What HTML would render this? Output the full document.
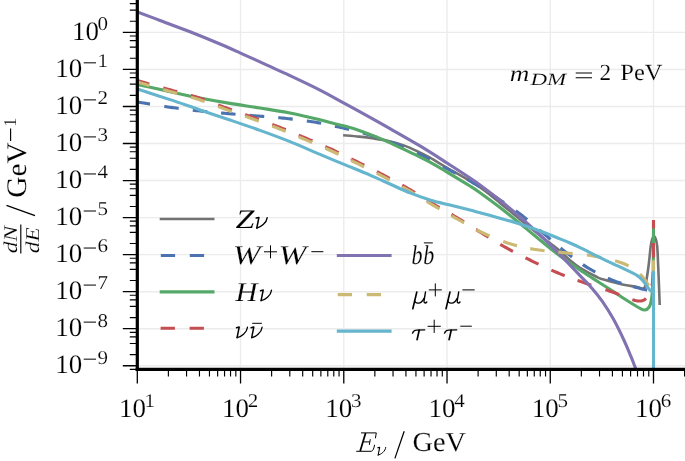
<!DOCTYPE html>
<html><head><meta charset="utf-8"><title>Neutrino spectra</title>
<style>html,body{margin:0;padding:0;background:#fff;}svg{display:block;}text{font-family:"Liberation Serif",serif;fill:#000;text-rendering:geometricPrecision;stroke:#fff;stroke-width:0.15px;filter:grayscale(1);}.i{font-style:italic;}</style></head><body>
<svg width="685" height="461" viewBox="0 0 685 461">
<rect width="685" height="461" fill="#fff"/>
<g stroke="#ececec" stroke-width="1.4" fill="none">
<line x1="240.54" y1="0" x2="240.54" y2="369.40"/>
<line x1="343.78" y1="0" x2="343.78" y2="369.40"/>
<line x1="447.02" y1="0" x2="447.02" y2="369.40"/>
<line x1="550.26" y1="0" x2="550.26" y2="369.40"/>
<line x1="653.50" y1="0" x2="653.50" y2="369.40"/>
<line x1="137.30" y1="32.40" x2="685.00" y2="32.40"/>
<line x1="137.30" y1="69.44" x2="685.00" y2="69.44"/>
<line x1="137.30" y1="106.48" x2="685.00" y2="106.48"/>
<line x1="137.30" y1="143.52" x2="685.00" y2="143.52"/>
<line x1="137.30" y1="180.56" x2="685.00" y2="180.56"/>
<line x1="137.30" y1="217.60" x2="685.00" y2="217.60"/>
<line x1="137.30" y1="254.64" x2="685.00" y2="254.64"/>
<line x1="137.30" y1="291.68" x2="685.00" y2="291.68"/>
<line x1="137.30" y1="328.72" x2="685.00" y2="328.72"/>
<line x1="137.30" y1="365.76" x2="685.00" y2="365.76"/>
</g>
<defs><clipPath id="c"><rect x="137.30" y="0" width="547.70" height="369.40"/></clipPath></defs>
<g clip-path="url(#c)" fill="none" stroke-linejoin="round">
<path d="M343.10,135.30 C345.78,135.52 354.08,136.10 359.20,136.63 C364.32,137.16 368.93,137.74 373.80,138.47 C378.67,139.19 383.53,139.88 388.40,141.00 C393.27,142.11 398.13,143.41 403.00,145.14 C407.87,146.88 413.10,149.33 417.60,151.42 C422.10,153.51 425.10,154.96 430.00,157.69 C434.90,160.42 440.33,163.91 447.00,167.79 C453.67,171.68 463.83,177.24 470.00,180.98 C476.17,184.72 479.00,186.58 484.00,190.24 C489.00,193.90 494.00,198.07 500.00,202.94 C506.00,207.81 513.33,214.06 520.00,219.48 C526.67,224.90 534.00,230.76 540.00,235.46 C546.00,240.17 552.67,245.12 556.00,247.72 C559.33,250.32 557.67,249.00 560.00,251.07 C562.33,253.14 566.67,257.34 570.00,260.14 C573.33,262.94 575.50,265.07 580.00,267.89 C584.50,270.70 593.07,275.08 597.00,277.02 C600.93,278.96 599.70,278.36 603.60,279.53 C607.50,280.70 614.83,282.80 620.40,284.05 C625.97,285.29 633.08,286.26 637.00,287.00 C640.92,287.74 642.30,289.83 643.90,288.50 C645.50,287.17 645.78,283.08 646.60,279.00 C647.42,274.92 648.12,269.43 648.80,264.00 C649.48,258.57 650.12,250.60 650.70,246.40 C651.28,242.20 651.75,240.47 652.30,238.80 C652.85,237.13 653.43,236.40 654.00,236.40 C654.57,236.40 655.17,237.13 655.70,238.80 C656.23,240.47 656.80,242.20 657.20,246.40 C657.60,250.60 657.82,257.82 658.10,264.00 C658.38,270.18 658.63,276.67 658.90,283.50 C659.17,290.33 659.57,301.42 659.70,305.00" stroke="#737373" stroke-width="2.60"/>
<path d="M137.30,102.00 L137.73,102.07 L138.22,102.15 L138.78,102.24 L139.39,102.34 L140.05,102.44 L140.77,102.56 L141.53,102.68 L142.34,102.81 L143.19,102.95 L144.07,103.09 L144.99,103.24 L145.94,103.39 L146.92,103.54 L147.93,103.71 L148.96,103.87 L150.00,104.04 L150.02,104.04 M164.33,106.40 L164.99,106.50 L166.45,106.73 L167.94,106.95 L169.45,107.17 L171.00,107.39 L172.59,107.61 L174.25,107.83 L175.96,108.06 L177.71,108.30 L178.69,108.42 M192.80,110.18 L194.51,110.38 L196.37,110.59 L198.20,110.80 L200.00,110.99 L201.78,111.19 L203.54,111.37 L205.30,111.55 L207.05,111.72 L207.21,111.74 M221.08,113.00 L222.70,113.14 L224.46,113.30 L226.22,113.45 L228.00,113.60 L229.79,113.76 L231.58,113.91 L233.39,114.07 L235.20,114.22 L235.52,114.24 M249.77,115.40 L249.80,115.40 L251.61,115.55 L253.42,115.69 L255.21,115.84 L257.00,115.99 L258.78,116.13 L260.54,116.27 L262.30,116.41 L264.05,116.54 L264.23,116.55 M278.28,117.66 L279.70,117.79 L281.46,117.95 L283.22,118.12 L285.00,118.30 L286.79,118.49 L288.58,118.69 L290.39,118.89 L292.20,119.09 L292.71,119.14 M306.83,120.92 L308.61,121.17 L310.42,121.45 L312.21,121.73 L314.00,122.02 L315.80,122.32 L317.62,122.65 L319.45,122.99 L321.13,123.31 M334.92,126.20 L335.73,126.38 L337.38,126.75 L338.99,127.10 L340.53,127.45 L342.00,127.77 L343.40,128.08 L344.71,128.38 L345.97,128.66 L347.16,128.94 L348.30,129.20 L349.07,129.39 M362.91,133.05 L363.63,133.26 L364.86,133.62 L366.10,133.99 L367.35,134.36 L368.61,134.74 L369.88,135.13 L371.14,135.52 L372.41,135.92 L373.68,136.32 L374.95,136.73 L376.22,137.14 L376.77,137.32 M390.30,141.97 L391.01,142.23 L392.24,142.68 L393.49,143.15 L394.75,143.63 L396.03,144.12 L397.33,144.63 L398.65,145.16 L400.00,145.70 L401.37,146.25 L402.75,146.82 L403.81,147.26 M416.95,152.94 L417.37,153.13 L418.89,153.84 L420.42,154.56 L421.96,155.29 L423.50,156.04 L425.06,156.81 L426.64,157.61 L428.25,158.43 L429.87,159.28 L429.96,159.33 M443.14,166.46 L444.71,167.32 L446.33,168.21 L447.93,169.08 L449.50,169.93 L451.05,170.77 L452.58,171.58 L454.09,172.39 L455.58,173.18 L455.90,173.34 M467.22,179.44 L467.37,179.52 L468.87,180.37 L470.39,181.23 L471.93,182.13 L473.50,183.05 L475.10,184.01 L476.73,184.99 L478.39,186.01 L479.69,186.82 M491.80,194.54 L492.00,194.67 L493.67,195.76 L495.30,196.84 L496.91,197.90 L498.48,198.94 L500.00,199.95 L501.48,200.93 L502.91,201.89 L503.89,202.55 M515.70,210.72 L516.03,210.96 L517.35,211.93 L518.70,212.94 L520.08,213.99 L521.50,215.08 L522.96,216.22 L524.45,217.41 L525.98,218.64 L527.16,219.61 M539.48,230.00 L540.16,230.58 L541.67,231.88 L543.16,233.14 L544.60,234.36 L546.00,235.54 L547.35,236.67 L548.65,237.78 L549.91,238.86 L550.52,239.39 M560.59,248.04 L561.67,248.92 L562.91,249.92 L564.18,250.92 L565.50,251.94 L566.86,252.98 L568.23,254.03 L569.63,255.09 L571.05,256.16 L572.05,256.92 M582.87,264.61 L582.89,264.63 L584.41,265.63 L585.94,266.61 L587.47,267.56 L589.00,268.48 L590.54,269.38 L592.09,270.27 L593.66,271.15 L595.23,272.01 L595.31,272.05 M607.81,278.20 L608.08,278.32 L609.69,279.03 L611.30,279.71 L612.90,280.36 L614.50,281.00 L616.12,281.61 L617.79,282.20 L619.50,282.78 L621.24,283.33 L621.35,283.37 M632.98,286.59 L633.18,286.64 L634.71,287.04 L636.18,287.41 L637.55,287.76 L638.83,288.09 L640.00,288.39 L641.07,288.67 L642.06,288.92 L642.98,289.15 L643.82,289.34 L644.61,289.51 L645.32,289.66 L645.99,289.79 L646.59,289.91 L647.07,289.99" stroke="#4c72b0" stroke-width="3.10"/>
<path d="M137.30,84.40 C142.75,85.61 159.55,89.37 170.00,91.63 C180.45,93.90 190.00,96.02 200.00,97.98 C210.00,99.94 220.00,101.71 230.00,103.38 C240.00,105.05 250.00,106.39 260.00,108.00 C270.00,109.61 280.00,111.06 290.00,113.02 C300.00,114.98 313.33,118.19 320.00,119.77 C326.67,121.35 325.90,121.47 330.00,122.52 C334.10,123.57 339.73,124.75 344.60,126.07 C349.47,127.39 354.33,128.80 359.20,130.45 C364.07,132.09 368.93,134.00 373.80,135.93 C378.67,137.87 383.53,139.91 388.40,142.08 C393.27,144.24 398.13,146.64 403.00,148.94 C407.87,151.24 413.10,153.70 417.60,155.90 C422.10,158.09 425.10,159.43 430.00,162.12 C434.90,164.82 440.33,168.10 447.00,172.08 C453.67,176.06 464.50,182.57 470.00,186.00 C475.50,189.43 475.00,189.07 480.00,192.65 C485.00,196.22 493.33,202.30 500.00,207.45 C506.67,212.60 513.33,218.12 520.00,223.55 C526.67,228.97 534.67,235.64 540.00,240.03 C545.33,244.41 548.67,247.20 552.00,249.86 C555.33,252.52 557.00,253.78 560.00,255.98 C563.00,258.18 566.67,260.73 570.00,263.06 C573.33,265.39 576.67,267.70 580.00,269.95 C583.33,272.19 586.67,274.36 590.00,276.53 C593.33,278.70 596.10,280.46 600.00,282.96 C603.90,285.47 608.63,288.47 613.40,291.56 C618.17,294.65 624.27,298.76 628.60,301.50 C632.93,304.24 636.70,306.58 639.40,308.00 C642.10,309.42 643.17,310.17 644.80,310.00 C646.43,309.83 648.12,308.57 649.20,307.00 C650.28,305.43 650.77,303.30 651.30,300.60 C651.83,297.90 652.08,295.90 652.40,290.80 C652.72,285.70 653.02,281.47 653.20,270.00 C653.38,258.53 653.45,230.00 653.50,222.00" stroke="#55a868" stroke-width="3.10"/>
<path d="M137.30,80.50 L138.45,80.83 L139.85,81.23 L141.47,81.70 L143.29,82.22 L145.26,82.78 L147.37,83.39 L149.28,83.94 M163.22,87.92 L163.69,88.05 L165.91,88.68 L168.03,89.28 L170.00,89.84 L171.88,90.36 L173.73,90.87 L175.56,91.36 L177.20,91.79 M190.85,95.44 L191.18,95.53 L192.88,96.02 L194.58,96.52 L196.29,97.04 L198.00,97.58 L199.71,98.14 L201.42,98.71 L203.12,99.30 L204.66,99.85 M218.20,104.93 L218.27,104.95 L219.95,105.59 L221.63,106.22 L223.31,106.84 L225.00,107.45 L226.69,108.05 L228.38,108.66 L230.06,109.25 L231.75,109.85 L231.83,109.88 M245.17,114.56 L245.25,114.59 L246.94,115.19 L248.62,115.79 L250.31,116.39 L252.00,117.00 L253.69,117.61 L255.38,118.23 L257.07,118.84 L258.76,119.45 L258.82,119.47 M272.23,124.42 L272.29,124.44 L273.97,125.08 L275.65,125.72 L277.33,126.37 L279.00,127.02 L280.67,127.68 L282.33,128.34 L283.98,129.01 L285.64,129.68 L285.73,129.72 M298.73,135.14 L298.80,135.17 L300.45,135.87 L302.09,136.57 L303.75,137.27 L305.40,137.98 L307.06,138.68 L308.72,139.39 L310.39,140.09 L312.06,140.80 L312.07,140.81 M325.39,146.55 L325.42,146.56 L327.07,147.30 L328.72,148.04 L330.36,148.78 L332.00,149.53 L333.63,150.28 L335.25,151.04 L336.86,151.80 L338.47,152.56 L338.56,152.61 M351.21,158.80 L351.22,158.81 L352.81,159.60 L354.40,160.39 L356.00,161.18 L357.60,161.98 L359.20,162.78 L360.81,163.57 L362.42,164.37 L364.03,165.18 L364.19,165.26 M376.87,171.65 L376.91,171.67 L378.51,172.50 L380.11,173.33 L381.71,174.16 L383.30,174.99 L384.89,175.83 L386.48,176.67 L388.06,177.51 L389.65,178.35 L389.71,178.38 M402.20,185.17 L402.25,185.20 L403.81,186.08 L405.38,186.96 L406.94,187.86 L408.50,188.76 L410.06,189.67 L411.61,190.59 L413.17,191.53 L414.71,192.47 L414.72,192.48 M427.01,200.14 L427.05,200.17 L428.59,201.12 L430.13,202.06 L431.66,203.00 L433.20,203.92 L434.74,204.83 L436.27,205.73 L437.80,206.62 L439.33,207.50 L439.46,207.57 M451.45,214.40 L451.57,214.46 L453.10,215.35 L454.63,216.24 L456.16,217.15 L457.70,218.07 L459.24,219.00 L460.78,219.94 L462.33,220.89 L463.87,221.86 L463.88,221.86 M476.24,229.67 L476.26,229.67 L477.80,230.64 L479.34,231.60 L480.87,232.55 L482.40,233.49 L483.92,234.43 L485.44,235.36 L486.95,236.29 L488.46,237.21 L488.58,237.29 M500.31,244.37 L500.48,244.47 L502.00,245.35 L503.52,246.23 L505.06,247.10 L506.60,247.97 L508.15,248.82 L509.71,249.67 L511.28,250.52 L512.85,251.36 L512.97,251.42 M525.49,257.83 L525.58,257.87 L527.18,258.67 L528.79,259.46 L530.39,260.24 L532.00,261.03 L533.61,261.81 L535.22,262.59 L536.83,263.36 L538.45,264.14 L538.53,264.18 M551.34,270.10 L551.46,270.16 L553.09,270.87 L554.73,271.58 L556.36,272.28 L558.00,272.97 L559.64,273.64 L561.27,274.31 L562.90,274.96 L564.54,275.60 L564.73,275.67 M577.56,280.42 L577.69,280.46 L579.35,281.06 L581.03,281.65 L582.71,282.24 L584.40,282.83 L586.12,283.43 L587.87,284.02 L589.66,284.62 L591.27,285.15 M605.43,289.70 L605.87,289.84 L607.55,290.39 L609.19,290.94 L610.78,291.47 L612.30,292.00 L613.78,292.53 L615.23,293.06 L616.66,293.60 L618.06,294.13 L619.09,294.53 M632.33,299.60 L632.84,299.77 L633.62,300.00 L634.33,300.21 L634.98,300.39 L635.58,300.55 L636.14,300.68 L636.66,300.79 L637.14,300.88 L637.59,300.95 L638.02,301.00 L638.44,301.04 L638.85,301.05 L639.25,301.06 L639.66,301.05 L640.07,301.03 L640.50,301.00 L640.93,300.96 L641.34,300.90 L641.73,300.82 L642.11,300.73 L642.47,300.62 L642.83,300.49 L643.17,300.35 L643.50,300.19 L643.82,300.02 L644.14,299.83 L644.46,299.63 L644.77,299.41 L645.07,299.18 L645.38,298.93 L645.69,298.67 L645.95,298.44 M651.96,286.07 L652.08,285.33 L652.19,284.53 L652.30,283.69 L652.41,282.83 L652.51,281.92 L652.61,280.98 L652.70,280.00 L652.79,279.01 L652.87,278.02 L652.95,277.03 L653.02,276.03 L653.08,275.01 L653.14,273.96 L653.19,272.88 L653.24,271.75 L653.24,271.64 M653.53,257.55 L653.54,255.68 L653.55,253.17 L653.56,250.47 L653.56,247.63 L653.56,244.71 L653.56,243.05 M653.52,228.55 L653.52,227.66 L653.51,225.31 L653.51,223.22 L653.50,221.44 L653.50,220.00" stroke="#c44e52" stroke-width="3.10"/>
<path d="M137.30,11.90 C141.08,13.33 151.22,17.14 160.00,20.45 C168.78,23.77 180.00,27.88 190.00,31.81 C200.00,35.74 211.50,40.44 220.00,44.02 C228.50,47.60 233.17,49.77 241.00,53.29 C248.83,56.81 258.83,61.44 267.00,65.16 C275.17,68.88 281.17,71.46 290.00,75.61 C298.83,79.76 311.00,85.48 320.00,90.07 C329.00,94.66 335.67,98.57 344.00,103.13 C352.33,107.69 362.33,113.16 370.00,117.42 C377.67,121.68 381.67,123.92 390.00,128.67 C398.33,133.42 410.50,140.23 420.00,145.94 C429.50,151.65 438.67,157.62 447.00,162.95 C455.33,168.28 464.50,174.26 470.00,177.92 C475.50,181.59 475.00,181.21 480.00,184.93 C485.00,188.64 493.33,194.87 500.00,200.21 C506.67,205.55 513.33,211.18 520.00,216.98 C526.67,222.77 533.33,228.73 540.00,235.00 C546.67,241.27 553.33,247.81 560.00,254.58 C566.67,261.35 574.72,270.06 580.00,275.63 C585.28,281.20 587.95,283.67 591.70,288.00 C595.45,292.34 598.88,296.45 602.50,301.63 C606.12,306.82 609.78,312.59 613.40,319.11 C617.02,325.62 621.32,334.58 624.20,340.72 C627.08,346.87 628.90,351.59 630.70,355.95 C632.50,360.31 633.78,363.70 635.00,366.87 C636.22,370.05 637.50,373.65 638.00,375.00" stroke="#8172b2" stroke-width="3.10"/>
<path d="M137.30,82.00 L138.45,82.33 L139.85,82.74 L141.47,83.21 L143.29,83.73 L145.26,84.31 L147.37,84.92 L149.30,85.48 M163.23,89.50 L163.69,89.64 L165.91,90.27 L168.03,90.88 L170.00,91.44 L171.88,91.97 L173.73,92.48 L175.56,92.98 L177.19,93.42 M190.86,97.12 L191.18,97.21 L192.88,97.70 L194.58,98.21 L196.29,98.73 L198.00,99.28 L199.71,99.84 L201.42,100.41 L203.12,101.01 L204.66,101.55 M218.20,106.63 L218.27,106.66 L219.95,107.29 L221.63,107.92 L223.31,108.54 L225.00,109.15 L226.69,109.76 L228.38,110.36 L230.06,110.95 L231.75,111.55 L231.83,111.58 M245.17,116.26 L245.25,116.29 L246.94,116.89 L248.62,117.49 L250.31,118.09 L252.00,118.70 L253.69,119.31 L255.38,119.93 L257.07,120.54 L258.76,121.15 L258.82,121.17 M272.23,126.12 L272.29,126.14 L273.97,126.78 L275.65,127.42 L277.33,128.07 L279.00,128.72 L280.67,129.38 L282.33,130.04 L283.98,130.71 L285.64,131.38 L285.73,131.42 M298.73,136.84 L298.80,136.87 L300.45,137.57 L302.09,138.27 L303.75,138.97 L305.40,139.68 L307.06,140.38 L308.72,141.09 L310.39,141.79 L312.06,142.50 L312.07,142.51 M325.39,148.25 L325.42,148.26 L327.07,149.00 L328.72,149.74 L330.36,150.48 L332.00,151.23 L333.63,151.98 L335.25,152.74 L336.86,153.50 L338.47,154.27 L338.56,154.31 M351.21,160.51 L351.22,160.51 L352.81,161.30 L354.40,162.09 L356.00,162.88 L357.60,163.68 L359.20,164.47 L360.81,165.26 L362.42,166.06 L364.03,166.86 L364.20,166.94 M376.85,173.28 L376.91,173.30 L378.51,174.12 L380.11,174.94 L381.71,175.77 L383.30,176.60 L384.89,177.43 L386.48,178.26 L388.06,179.09 L389.65,179.93 L389.72,179.96 M402.19,186.69 L402.25,186.73 L403.81,187.60 L405.38,188.48 L406.94,189.36 L408.50,190.26 L410.06,191.16 L411.61,192.08 L413.17,193.02 L414.71,193.96 L414.73,193.97 M427.00,201.59 L427.05,201.62 L428.59,202.57 L430.13,203.50 L431.66,204.43 L433.20,205.34 L434.74,206.24 L436.27,207.14 L437.79,208.03 L439.32,208.91 L439.46,208.99 M451.37,215.73 L451.52,215.82 L453.06,216.68 L454.60,217.54 L456.15,218.40 L457.70,219.26 L459.26,220.13 L460.81,221.00 L462.37,221.88 L463.93,222.77 L464.02,222.82 M476.51,229.74 L476.54,229.75 L478.14,230.58 L479.75,231.40 L481.37,232.19 L483.00,232.97 L484.64,233.73 L486.29,234.49 L487.95,235.24 L489.60,235.98 M503.13,241.45 L503.18,241.47 L504.89,242.08 L506.59,242.67 L508.30,243.23 L510.00,243.77 L511.70,244.28 L513.40,244.77 L515.10,245.23 L516.81,245.68 L516.98,245.72 M530.25,248.56 L530.49,248.60 L532.21,248.91 L533.94,249.21 L535.67,249.50 L537.40,249.78 L539.14,250.05 L540.88,250.30 L542.62,250.53 L544.37,250.74 L544.58,250.77 M558.29,252.08 L558.43,252.09 L560.20,252.25 L561.96,252.42 L563.73,252.60 L565.50,252.80 L567.27,252.99 L569.05,253.17 L570.83,253.35 L572.61,253.52 L572.71,253.53 M586.83,255.03 L586.90,255.03 L588.68,255.28 L590.46,255.54 L592.23,255.82 L594.00,256.12 L595.79,256.45 L597.61,256.80 L599.47,257.17 L601.12,257.51 M615.08,260.85 L615.93,261.08 L617.56,261.56 L619.13,262.04 L620.61,262.52 L622.00,263.00 L623.31,263.49 L624.55,263.99 L625.72,264.50 L626.84,265.02 L627.89,265.55 L628.62,265.94 M639.99,274.00 L640.01,274.02 L640.51,274.51 L640.98,275.01 L641.42,275.50 L641.86,275.99 L642.27,276.49 L642.68,276.98 L643.08,277.48 L643.48,277.98 L643.88,278.48 L644.28,278.99 L644.70,279.50 L645.12,280.04 L645.54,280.62 L645.96,281.24 L646.37,281.88 L646.77,282.54 L647.17,283.20 L647.56,283.86 L647.94,284.50 L648.31,285.12 L648.60,285.60 M653.42,274.85 L653.43,274.40 L653.46,273.58 L653.48,272.78 L653.50,272.00 L653.52,271.21 L653.53,270.38 L653.54,269.51 L653.55,268.62 L653.55,267.71 L653.55,266.80 L653.55,265.89 L653.54,265.00 L653.54,264.13 L653.53,263.29 L653.52,262.50 L653.52,261.76 L653.51,261.08 L653.50,260.47 L653.50,260.35" stroke="#ccb974" stroke-width="3.10"/>
<path d="M137.30,89.00 C142.75,90.77 159.55,96.14 170.00,99.64 C180.45,103.13 190.00,106.57 200.00,109.97 C210.00,113.36 220.00,116.60 230.00,120.01 C240.00,123.41 250.00,126.79 260.00,130.39 C270.00,134.00 280.00,137.65 290.00,141.64 C300.00,145.64 311.00,150.58 320.00,154.36 C329.00,158.15 335.67,160.93 344.00,164.38 C352.33,167.83 362.33,171.79 370.00,175.07 C377.67,178.34 383.33,181.05 390.00,184.03 C396.67,187.00 403.33,190.27 410.00,192.92 C416.67,195.57 423.33,197.89 430.00,199.92 C436.67,201.95 443.33,203.40 450.00,205.09 C456.67,206.78 465.00,208.78 470.00,210.06 C475.00,211.33 475.00,211.40 480.00,212.75 C485.00,214.10 493.33,216.29 500.00,218.17 C506.67,220.05 513.33,221.90 520.00,224.04 C526.67,226.18 533.33,228.52 540.00,231.00 C546.67,233.48 555.00,236.91 560.00,238.91 C565.00,240.92 566.67,241.58 570.00,243.03 C573.33,244.47 577.20,246.27 580.00,247.60 C582.80,248.92 583.97,249.56 586.80,250.99 C589.63,252.43 594.20,254.81 597.00,256.21 C599.80,257.61 599.70,257.57 603.60,259.39 C607.50,261.21 614.83,264.48 620.40,267.15 C625.97,269.81 633.08,272.92 637.00,275.40 C640.92,277.88 641.92,279.75 643.90,282.00 C645.88,284.25 647.62,287.32 648.90,288.90 C650.18,290.48 651.15,291.07 651.60,291.50 L651.60,291.50 L653.10,289.00 L653.50,272.00 L653.50,376.00" stroke="#64b5cd" stroke-width="3.10"/>
</g>
<path d="M159.70,219.00 H214.50" stroke="#737373" stroke-width="2.30" fill="none" stroke-linecap="butt"/>
<path d="M160.80,255.50 H175.10 M189.80,255.50 H204.10" stroke="#4c72b0" stroke-width="3.10" fill="none"/>
<path d="M159.70,291.90 H214.50" stroke="#55a868" stroke-width="3.10" fill="none" stroke-linecap="butt"/>
<path d="M160.60,328.30 H174.90 M189.60,328.30 H203.90" stroke="#c44e52" stroke-width="3.10" fill="none"/>
<path d="M336.80,255.50 H391.60" stroke="#8172b2" stroke-width="3.10" fill="none" stroke-linecap="butt"/>
<path d="M337.70,294.60 H352.00 M366.70,294.60 H381.00" stroke="#ccb974" stroke-width="3.10" fill="none"/>
<path d="M336.80,331.10 H391.60" stroke="#64b5cd" stroke-width="3.10" fill="none" stroke-linecap="butt"/>
<g stroke="#000" fill="none">
<line x1="137.30" y1="0" x2="137.30" y2="371.00" stroke-width="3.2"/>
<line x1="135.70" y1="369.40" x2="685.00" y2="369.40" stroke-width="3.2"/>
<path d="M137.30,369.40 v14 M240.54,369.40 v14 M343.78,369.40 v14 M447.02,369.40 v14 M550.26,369.40 v14 M653.50,369.40 v14 M137.30,32.40 h-14.5 M137.30,69.44 h-14.5 M137.30,106.48 h-14.5 M137.30,143.52 h-14.5 M137.30,180.56 h-14.5 M137.30,217.60 h-14.5 M137.30,254.64 h-14.5 M137.30,291.68 h-14.5 M137.30,328.72 h-14.5 M137.30,365.76 h-14.5" stroke-width="1.3"/>
<path d="M168.38,369.40 v7.2 M186.56,369.40 v7.2 M199.46,369.40 v7.2 M209.46,369.40 v7.2 M217.64,369.40 v7.2 M224.55,369.40 v7.2 M230.54,369.40 v7.2 M235.82,369.40 v7.2 M271.62,369.40 v7.2 M289.80,369.40 v7.2 M302.70,369.40 v7.2 M312.70,369.40 v7.2 M320.88,369.40 v7.2 M327.79,369.40 v7.2 M333.78,369.40 v7.2 M339.06,369.40 v7.2 M374.86,369.40 v7.2 M393.04,369.40 v7.2 M405.94,369.40 v7.2 M415.94,369.40 v7.2 M424.12,369.40 v7.2 M431.03,369.40 v7.2 M437.02,369.40 v7.2 M442.30,369.40 v7.2 M478.10,369.40 v7.2 M496.28,369.40 v7.2 M509.18,369.40 v7.2 M519.18,369.40 v7.2 M527.36,369.40 v7.2 M534.27,369.40 v7.2 M540.26,369.40 v7.2 M545.54,369.40 v7.2 M581.34,369.40 v7.2 M599.52,369.40 v7.2 M612.42,369.40 v7.2 M622.42,369.40 v7.2 M630.60,369.40 v7.2 M637.51,369.40 v7.2 M643.50,369.40 v7.2 M648.78,369.40 v7.2 M684.58,369.40 v7.2 M137.30,21.25 h-7.5 M137.30,10.10 h-7.5 M137.30,3.58 h-7.5 M137.30,58.29 h-7.5 M137.30,47.14 h-7.5 M137.30,40.62 h-7.5 M137.30,35.99 h-7.5 M137.30,95.33 h-7.5 M137.30,84.18 h-7.5 M137.30,77.66 h-7.5 M137.30,73.03 h-7.5 M137.30,132.37 h-7.5 M137.30,121.22 h-7.5 M137.30,114.70 h-7.5 M137.30,110.07 h-7.5 M137.30,169.41 h-7.5 M137.30,158.26 h-7.5 M137.30,151.74 h-7.5 M137.30,147.11 h-7.5 M137.30,206.45 h-7.5 M137.30,195.30 h-7.5 M137.30,188.78 h-7.5 M137.30,184.15 h-7.5 M137.30,243.49 h-7.5 M137.30,232.34 h-7.5 M137.30,225.82 h-7.5 M137.30,221.19 h-7.5 M137.30,280.53 h-7.5 M137.30,269.38 h-7.5 M137.30,262.86 h-7.5 M137.30,258.23 h-7.5 M137.30,317.57 h-7.5 M137.30,306.42 h-7.5 M137.30,299.90 h-7.5 M137.30,295.27 h-7.5 M137.30,354.61 h-7.5 M137.30,343.46 h-7.5 M137.30,336.94 h-7.5 M137.30,332.31 h-7.5 M137.30,369.35 h-7.5" stroke-width="1.15"/>
</g>
<text x="72.00" y="39.60" font-size="26.60" textLength="27.0" lengthAdjust="spacingAndGlyphs">10</text>
<text x="97.60" y="30.20" font-size="19.50" textLength="10.5" lengthAdjust="spacingAndGlyphs">0</text>
<text x="55.20" y="76.64" font-size="26.60" textLength="27.0" lengthAdjust="spacingAndGlyphs">10</text>
<line x1="83.70" y1="62.84" x2="96.00" y2="62.84" stroke="#000" stroke-width="1.0"/>
<text x="97.60" y="67.24" font-size="19.50" textLength="10.5" lengthAdjust="spacingAndGlyphs">1</text>
<text x="55.20" y="113.68" font-size="26.60" textLength="27.0" lengthAdjust="spacingAndGlyphs">10</text>
<line x1="83.70" y1="99.88" x2="96.00" y2="99.88" stroke="#000" stroke-width="1.0"/>
<text x="97.60" y="104.28" font-size="19.50" textLength="10.5" lengthAdjust="spacingAndGlyphs">2</text>
<text x="55.20" y="150.72" font-size="26.60" textLength="27.0" lengthAdjust="spacingAndGlyphs">10</text>
<line x1="83.70" y1="136.92" x2="96.00" y2="136.92" stroke="#000" stroke-width="1.0"/>
<text x="97.60" y="141.32" font-size="19.50" textLength="10.5" lengthAdjust="spacingAndGlyphs">3</text>
<text x="55.20" y="187.76" font-size="26.60" textLength="27.0" lengthAdjust="spacingAndGlyphs">10</text>
<line x1="83.70" y1="173.96" x2="96.00" y2="173.96" stroke="#000" stroke-width="1.0"/>
<text x="97.60" y="178.36" font-size="19.50" textLength="10.5" lengthAdjust="spacingAndGlyphs">4</text>
<text x="55.20" y="224.80" font-size="26.60" textLength="27.0" lengthAdjust="spacingAndGlyphs">10</text>
<line x1="83.70" y1="211.00" x2="96.00" y2="211.00" stroke="#000" stroke-width="1.0"/>
<text x="97.60" y="215.40" font-size="19.50" textLength="10.5" lengthAdjust="spacingAndGlyphs">5</text>
<text x="55.20" y="261.84" font-size="26.60" textLength="27.0" lengthAdjust="spacingAndGlyphs">10</text>
<line x1="83.70" y1="248.04" x2="96.00" y2="248.04" stroke="#000" stroke-width="1.0"/>
<text x="97.60" y="252.44" font-size="19.50" textLength="10.5" lengthAdjust="spacingAndGlyphs">6</text>
<text x="55.20" y="298.88" font-size="26.60" textLength="27.0" lengthAdjust="spacingAndGlyphs">10</text>
<line x1="83.70" y1="285.08" x2="96.00" y2="285.08" stroke="#000" stroke-width="1.0"/>
<text x="97.60" y="289.48" font-size="19.50" textLength="10.5" lengthAdjust="spacingAndGlyphs">7</text>
<text x="55.20" y="335.92" font-size="26.60" textLength="27.0" lengthAdjust="spacingAndGlyphs">10</text>
<line x1="83.70" y1="322.12" x2="96.00" y2="322.12" stroke="#000" stroke-width="1.0"/>
<text x="97.60" y="326.52" font-size="19.50" textLength="10.5" lengthAdjust="spacingAndGlyphs">8</text>
<text x="55.20" y="372.96" font-size="26.60" textLength="27.0" lengthAdjust="spacingAndGlyphs">10</text>
<line x1="83.70" y1="359.16" x2="96.00" y2="359.16" stroke="#000" stroke-width="1.0"/>
<text x="97.60" y="363.56" font-size="19.50" textLength="10.5" lengthAdjust="spacingAndGlyphs">9</text>
<text x="118.90" y="416.60" font-size="26.60" textLength="27.0" lengthAdjust="spacingAndGlyphs">10</text>
<text x="144.50" y="406.60" font-size="19.50" textLength="10.5" lengthAdjust="spacingAndGlyphs">1</text>
<text x="222.14" y="416.60" font-size="26.60" textLength="27.0" lengthAdjust="spacingAndGlyphs">10</text>
<text x="247.74" y="406.60" font-size="19.50" textLength="10.5" lengthAdjust="spacingAndGlyphs">2</text>
<text x="325.38" y="416.60" font-size="26.60" textLength="27.0" lengthAdjust="spacingAndGlyphs">10</text>
<text x="350.98" y="406.60" font-size="19.50" textLength="10.5" lengthAdjust="spacingAndGlyphs">3</text>
<text x="428.62" y="416.60" font-size="26.60" textLength="27.0" lengthAdjust="spacingAndGlyphs">10</text>
<text x="454.22" y="406.60" font-size="19.50" textLength="10.5" lengthAdjust="spacingAndGlyphs">4</text>
<text x="531.86" y="416.60" font-size="26.60" textLength="27.0" lengthAdjust="spacingAndGlyphs">10</text>
<text x="557.46" y="406.60" font-size="19.50" textLength="10.5" lengthAdjust="spacingAndGlyphs">5</text>
<text x="635.10" y="416.60" font-size="26.60" textLength="27.0" lengthAdjust="spacingAndGlyphs">10</text>
<text x="660.70" y="406.60" font-size="19.50" textLength="10.5" lengthAdjust="spacingAndGlyphs">6</text>
<g fill="none" stroke="#000" stroke-linejoin="round"><path d="M365.6,433.1 L360.2,451.1" stroke-width="1.75"/><path d="M361.0,432.9 H376.3 L375.4,438.3 M363.2,441.9 H369.9 M370.3,439.2 L369.3,444.9 M356.2,451.3 H371.3 C373.0,451.0 374.0,448.2 374.6,444.8" stroke-width="1.0"/></g>
<line x1="394.9" y1="458.4" x2="404.2" y2="431.3" stroke="#000" stroke-width="1.25"/>
<text x="412.6" y="451" font-size="27.40" textLength="53.4" lengthAdjust="spacingAndGlyphs">GeV</text>
<g transform="translate(27.5,253.4) rotate(-90)">
<line x1="0" y1="-6.7" x2="28.8" y2="-6.7" stroke="#000" stroke-width="1.15"/>
<text x="0.2" y="-10.8" font-size="19.6" class="i" textLength="27.2" lengthAdjust="spacingAndGlyphs">dN</text>
<text x="0.2" y="11.0" font-size="19.6" class="i" textLength="25.8" lengthAdjust="spacingAndGlyphs">dE</text>
<line x1="37.7" y1="7.5" x2="48" y2="-21" stroke="#000" stroke-width="1.25"/>
<text x="55.6" y="-1.4" font-size="28.4" textLength="55.4" lengthAdjust="spacingAndGlyphs">GeV</text>
<line x1="112.4" y1="-16.9" x2="124.8" y2="-16.9" stroke="#000" stroke-width="1.15"/>
<text x="126.6" y="-11.2" font-size="18.2">1</text>
</g>
<text x="509.8" y="80.6" font-size="22.4" class="i" textLength="19.6" lengthAdjust="spacingAndGlyphs">m</text>
<text x="530.4" y="84.7" font-size="17.2" class="i" textLength="35.8" lengthAdjust="spacingAndGlyphs">DM</text>
<path d="M575.7,73 h16.3 M575.7,77.8 h16.3" stroke="#000" stroke-width="1.1" fill="none"/>
<text x="599.4" y="80.3" font-size="23.20">2</text>
<text x="620.3" y="80.3" font-size="23.20" textLength="42.2" lengthAdjust="spacingAndGlyphs">PeV</text>
<text x="235.40" y="228.40" font-size="27.00" class="i" textLength="19.00" lengthAdjust="spacingAndGlyphs">Z</text>
<g transform="translate(255.90,228.40) scale(1.000)" fill="none" stroke="#000" stroke-linejoin="round" stroke-linecap="round"><path d="M0.3,-10.3 L3.0,-10.9 L0.9,-0.4" stroke-width="1.5"/><path d="M0.9,-0.3 C4.6,-1.0 10.8,-5.4 11.3,-10.8" stroke-width="1.35"/></g>
<text x="232.80" y="264.30" font-size="27.00" class="i" textLength="28.00" lengthAdjust="spacingAndGlyphs">W</text>
<path d="M264.00,251.80 h13.00 M270.50,245.30 v13.00" stroke="#000" stroke-width="1.00" fill="none"/>
<text x="278.60" y="264.30" font-size="27.00" class="i" textLength="28.00" lengthAdjust="spacingAndGlyphs">W</text>
<path d="M311.40,251.70 H323.40" stroke="#000" stroke-width="1.00" fill="none"/>
<text x="235.40" y="301.00" font-size="27.00" class="i" textLength="22.00" lengthAdjust="spacingAndGlyphs">H</text>
<g transform="translate(260.20,301.00) scale(1.000)" fill="none" stroke="#000" stroke-linejoin="round" stroke-linecap="round"><path d="M0.3,-10.3 L3.0,-10.9 L0.9,-0.4" stroke-width="1.5"/><path d="M0.9,-0.3 C4.6,-1.0 10.8,-5.4 11.3,-10.8" stroke-width="1.35"/></g>
<g transform="translate(236.20,338.00) scale(1.000)" fill="none" stroke="#000" stroke-linejoin="round" stroke-linecap="round"><path d="M0.3,-10.3 L3.0,-10.9 L0.9,-0.4" stroke-width="1.5"/><path d="M0.9,-0.3 C4.6,-1.0 10.8,-5.4 11.3,-10.8" stroke-width="1.35"/></g>
<g transform="translate(250.80,338.00) scale(1.000)" fill="none" stroke="#000" stroke-linejoin="round" stroke-linecap="round"><path d="M0.3,-10.3 L3.0,-10.9 L0.9,-0.4" stroke-width="1.5"/><path d="M0.9,-0.3 C4.6,-1.0 10.8,-5.4 11.3,-10.8" stroke-width="1.35"/></g>
<path d="M252.20,323.30 H261.90" stroke="#000" stroke-width="1.00" fill="none"/>
<text x="411.60" y="264.10" font-size="27.00" class="i" textLength="11.00" lengthAdjust="spacingAndGlyphs">b</text>
<text x="423.20" y="264.10" font-size="27.00" class="i" textLength="11.00" lengthAdjust="spacingAndGlyphs">b</text>
<path d="M423.90,242.90 H432.80" stroke="#000" stroke-width="1.00" fill="none"/>
<g transform="translate(412.60,303.00) scale(1.000)" fill="none" stroke="#000" stroke-linejoin="round" stroke-linecap="round"><path d="M4.2,-11.0 L0.2,5.8" stroke-width="1.6"/><path d="M1.9,-2.6 C2.2,1.2 8.6,1.6 11.2,-4.6" stroke-width="1.3"/><path d="M12.9,-11.0 L11.4,-2.2 C11.1,0.2 12.9,0.5 14.2,-1.0" stroke-width="1.4"/></g>
<path d="M428.80,289.90 h13.00 M435.30,283.40 v13.00" stroke="#000" stroke-width="1.00" fill="none"/>
<g transform="translate(445.80,303.00) scale(1.000)" fill="none" stroke="#000" stroke-linejoin="round" stroke-linecap="round"><path d="M4.2,-11.0 L0.2,5.8" stroke-width="1.6"/><path d="M1.9,-2.6 C2.2,1.2 8.6,1.6 11.2,-4.6" stroke-width="1.3"/><path d="M12.9,-11.0 L11.4,-2.2 C11.1,0.2 12.9,0.5 14.2,-1.0" stroke-width="1.4"/></g>
<path d="M462.40,289.90 H474.70" stroke="#000" stroke-width="1.00" fill="none"/>
<g transform="translate(377.50,455.30) scale(0.730)" fill="none" stroke="#000" stroke-linejoin="round" stroke-linecap="round"><path d="M0.3,-10.3 L3.0,-10.9 L0.9,-0.4" stroke-width="1.5"/><path d="M0.9,-0.3 C4.6,-1.0 10.8,-5.4 11.3,-10.8" stroke-width="1.35"/></g>
<g transform="translate(412.30,340.00) scale(1.000)" fill="none" stroke="#000" stroke-linejoin="round" stroke-linecap="round"><path d="M0.2,-6.8 C0.9,-8.6 2.0,-9.9 3.8,-9.9 L12.4,-10.1" stroke-width="1.3"/><path d="M6.9,-9.8 L4.8,-0.4" stroke-width="1.7"/></g>
<path d="M427.60,326.30 h13.20 M434.20,319.70 v13.20" stroke="#000" stroke-width="1.00" fill="none"/>
<g transform="translate(444.30,340.00) scale(1.000)" fill="none" stroke="#000" stroke-linejoin="round" stroke-linecap="round"><path d="M0.2,-6.8 C0.9,-8.6 2.0,-9.9 3.8,-9.9 L12.4,-10.1" stroke-width="1.3"/><path d="M6.9,-9.8 L4.8,-0.4" stroke-width="1.7"/></g>
<path d="M460.30,326.20 H471.80" stroke="#000" stroke-width="1.00" fill="none"/>
</svg></body></html>
